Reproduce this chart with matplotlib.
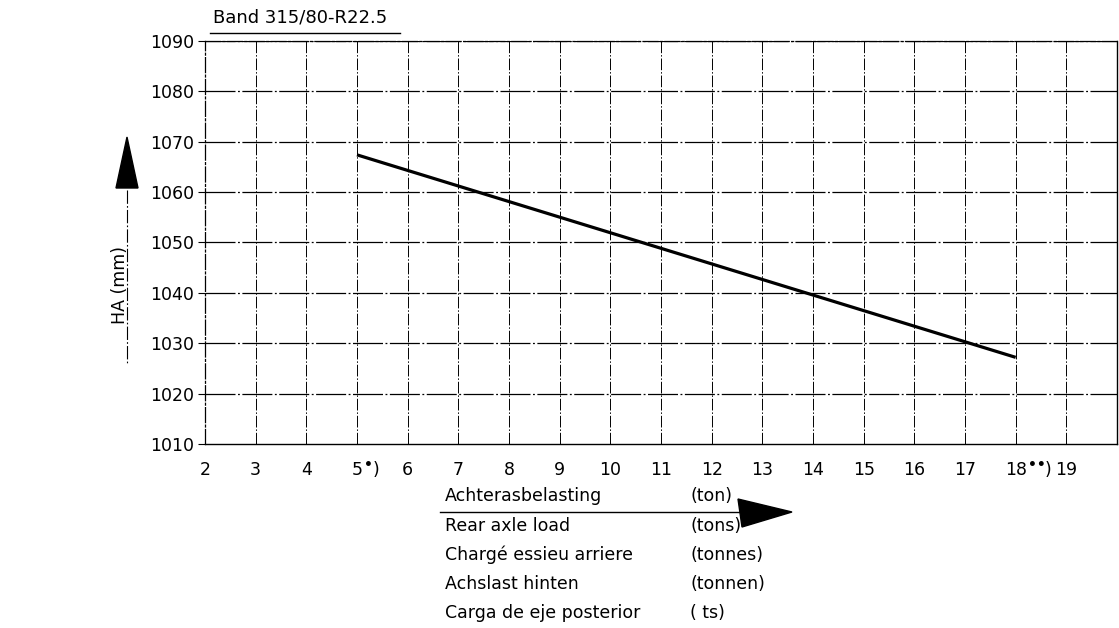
import matplotlib
matplotlib.use('Agg')
import matplotlib.pyplot as plt
from matplotlib.patches import Polygon
from matplotlib.lines import Line2D

plt.rcParams['font.family'] = ['DejaVu Sans']

# data
load_t = [5, 18]
ha_mm = [1067.4, 1027.2]
x_ticks = list(range(2, 20))
y_ticks = list(range(1010, 1091, 10))
title = 'Band 315/80-R22.5'
x_names = ['Achterasbelasting', 'Rear axle load', 'Chargé essieu arriere',
           'Achslast hinten', 'Carga de eje posterior']
x_units = ['(ton)', '(tons)', '(tonnes)', '(tonnen)', '( ts)']

W, H = 1119, 628
fig = plt.figure(figsize=(W / 100, H / 100), dpi=100)
fig.patch.set_facecolor('white')


def fx(px):
    return px / W


def fy(py):
    return 1 - py / H


ax = fig.add_axes([fx(205), fy(444), fx(1117) - fx(205), fy(41) - fy(444)])
ax.set_xlim(2, 20)
ax.set_ylim(1010, 1090)
dash = (0, (12, 2, 1.5, 2))
for x in x_ticks[1:]:
    ax.axvline(x, color='black', lw=0.7, ls=dash)
for y in y_ticks[1:]:
    ax.axhline(y, color='black', lw=0.9, ls=(0, (24, 2, 1.5, 2)))

ax.plot(load_t, ha_mm, color='black', lw=2.3, solid_capstyle='butt')

ax.set_xticks(x_ticks)
ax.set_xticklabels([str(x) for x in x_ticks], fontsize=12.5)
ax.set_yticks(y_ticks)
ax.set_yticklabels([str(y) for y in y_ticks], fontsize=12.5)
ax.tick_params(axis='x', length=0, pad=12)
ax.tick_params(axis='y', length=5, width=0.8, pad=3)
for side in ['left', 'top']:
    ax.spines[side].set_linestyle(dash)
    ax.spines[side].set_linewidth(0.9)
for side in ['bottom', 'right']:
    ax.spines[side].set_linewidth(1.0)

# footnote marks after 5 and 18
for xv, mark, dx in [(5, '\u2022', 5), (18, '\u2022\u2022', 9)]:
    ax.annotate(mark, xy=(xv, 1010), xytext=(dx, -10), textcoords='offset points',
                fontsize=10, va='top', ha='left', xycoords='data', fontweight='bold')
    ax.annotate(')', xy=(xv, 1010), xytext=(dx + 6 * len(mark), -12), textcoords='offset points',
                fontsize=12.5, va='top', ha='left', xycoords='data')

# title with underline
fig.text(fx(213), fy(17), title, fontsize=13, va='center', ha='left')
fig.add_artist(Line2D([fx(210), fx(400)], [fy(33), fy(33)], color='black', lw=1.0))

# y-axis label and arrow
fig.text(fx(120), fy(285), 'HA (mm)', rotation=90, fontsize=12.5, va='center', ha='center')
fig.add_artist(Line2D([fx(127), fx(127)], [fy(190), fy(365)], color='black', lw=0.8, ls=dash))
fig.add_artist(Polygon([[fx(127), fy(137)], [fx(116), fy(188)], [fx(138), fy(188)]],
                       closed=True, color='black', transform=fig.transFigure))

# x-axis caption table and arrow
rows_y = [496, 526, 555, 584, 613]
for name, unit, ry in zip(x_names, x_units, rows_y):
    fig.text(fx(445), fy(ry), name, fontsize=12.5, va='center', ha='left')
    fig.text(fx(690), fy(ry), unit, fontsize=12.5, va='center', ha='left')
fig.add_artist(Line2D([fx(440), fx(750)], [fy(512), fy(512)], color='black', lw=1.0))
fig.add_artist(Polygon([[fx(792), fy(512)], [fx(738), fy(499)], [fx(742), fy(527)]],
                       closed=True, color='black', transform=fig.transFigure))

fig.savefig('out.png', dpi=100)
